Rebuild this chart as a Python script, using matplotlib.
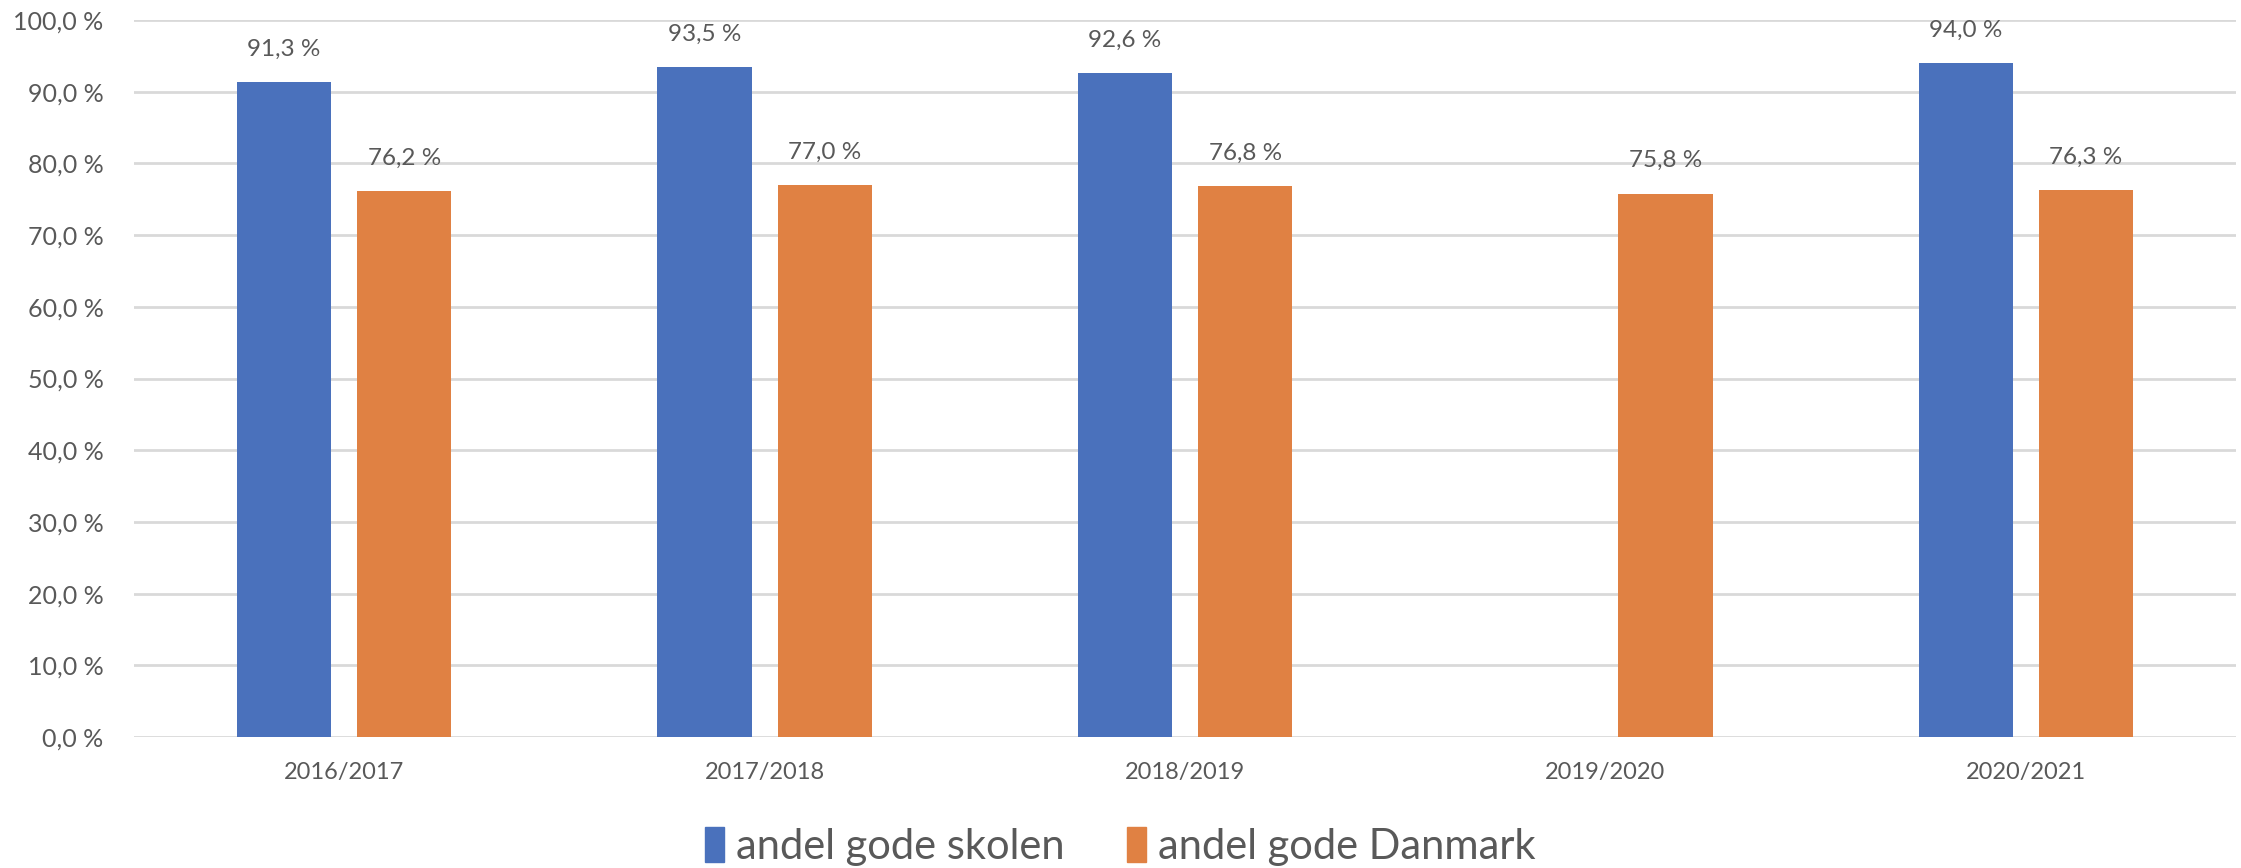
import matplotlib
matplotlib.use("Agg")
import matplotlib.pyplot as plt
import numpy as np
from matplotlib.patches import Patch

categories = ["2016/2017", "2017/2018", "2018/2019", "2019/2020", "2020/2021"]
skolen = [91.3, 93.5, 92.6, np.nan, 94.0]
danmark = [76.2, 77.0, 76.8, 75.8, 76.3]
series_names = ["andel gode skolen", "andel gode Danmark"]
yticks = [0, 10, 20, 30, 40, 50, 60, 70, 80, 90, 100]

blue = "#4A71BC"
orange = "#E08143"
txt = "#595959"
grid = "#D9D9D9"

plt.rcParams['font.family'] = ['Lato', 'DejaVu Sans']

fig = plt.figure(figsize=(22.41, 8.68), dpi=100)
ax = fig.add_axes([0.0598, 0.1509, 0.938, 0.826])

x = np.arange(len(categories))
w = 0.224
off = 0.143
b1 = ax.bar(x - off, skolen, w, color=blue, zorder=3)
b2 = ax.bar(x + off, danmark, w, color=orange, zorder=3)

def fmt(v):
    return f"{v:.1f}".replace(".", ",") + " %"

for xs, vals in ((x - off, skolen), (x + off, danmark)):
    for xi, v in zip(xs, vals):
        if np.isnan(v):
            continue
        ax.annotate(fmt(v), (xi, v), xytext=(0, 16), textcoords="offset points",
                    ha="center", va="bottom", fontsize=17.5, color=txt)

ax.set_xlim(-0.5, len(categories) - 0.5)
ax.set_ylim(0, 100)
ax.set_yticks(yticks)
ax.set_yticklabels([fmt(v) for v in yticks], fontsize=18, color=txt)
ax.set_xticks(x)
ax.set_xticklabels(categories, fontsize=17, color=txt)
ax.tick_params(axis="both", length=0)
ax.tick_params(axis="y", pad=22)
ax.tick_params(axis="x", pad=18)
for s in ax.spines.values():
    s.set_visible(False)
ax.yaxis.grid(True, color=grid, linewidth=2, zorder=0)
ax.set_axisbelow(True)

handles = [Patch(color=blue), Patch(color=orange)]
fig.legend(handles, series_names, loc="center", bbox_to_anchor=(0.5, 0.025),
           ncol=2, frameon=False, fontsize=30, labelcolor=txt,
           handlelength=0.45, handleheight=0.9, handletextpad=0.3, columnspacing=1.5)

fig.savefig("out.png", dpi=100)
